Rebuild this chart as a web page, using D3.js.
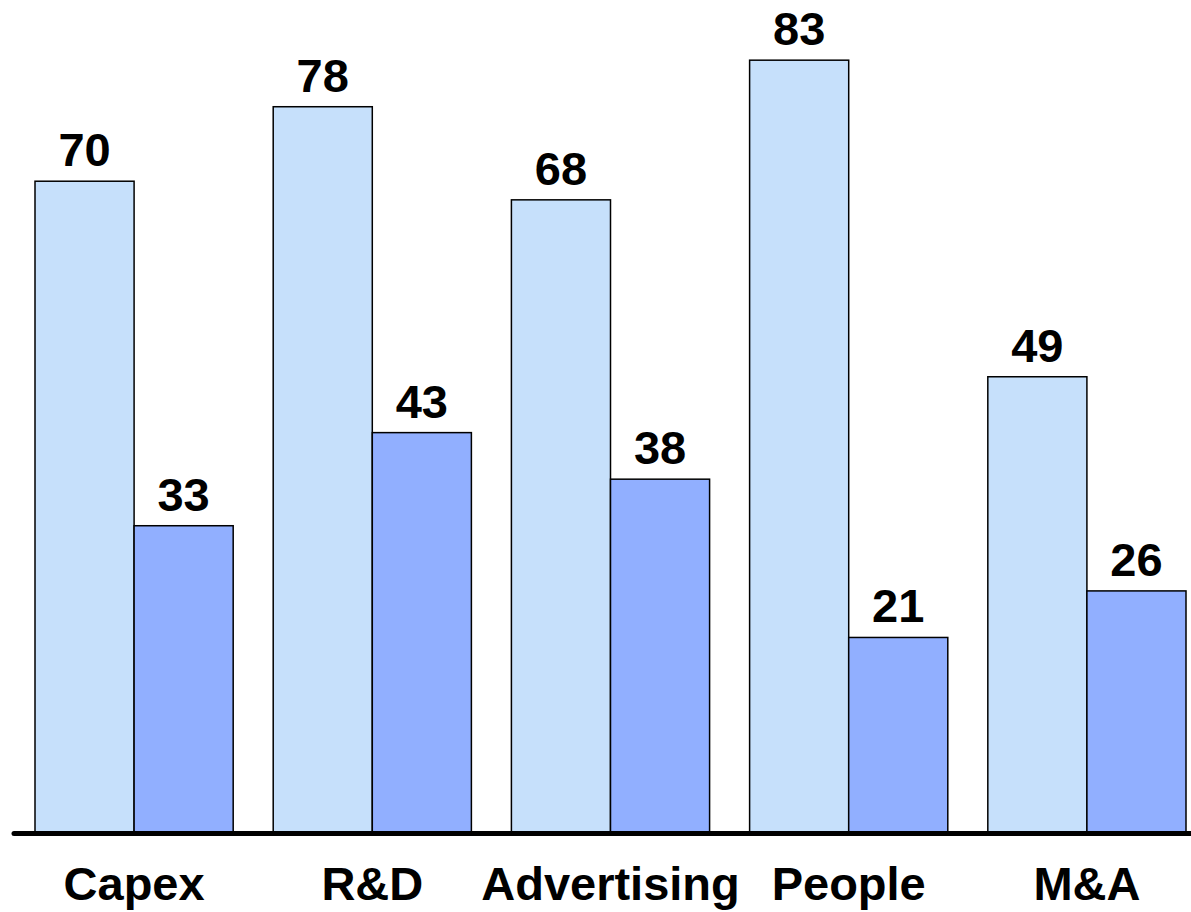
<!DOCTYPE html>
<html><head><meta charset="utf-8">
<script src="https://cdn.jsdelivr.net/npm/d3@7"></script>
<style>html,body{margin:0;padding:0;background:#fff;}svg{display:block;}</style>
</head><body>
<svg id="chart" width="1191" height="912"></svg>
<script>
const categories = ["Capex", "R&D", "Advertising", "People", "M&A"];
const seriesA = [70, 78, 68, 83, 49];
const seriesB = [33, 43, 38, 21, 26];
const seriesColors = ["#C6E0FB", "#91AFFF"];

const svg = d3.select("#chart");
const baseY = 833;
const x = d3.scaleBand().domain(categories).range([35, 1186]).paddingInner(0.168).paddingOuter(0);
const sub = d3.scaleBand().domain([0, 1]).range([0, x.bandwidth()]);
const y = d3.scaleLinear().domain([0, 90]).range([baseY, baseY - 838]);

const data = categories.map((c, i) => ({c, vals: [seriesA[i], seriesB[i]]}));
const groups = svg.selectAll("g.grp").data(data).join("g")
  .attr("transform", d => `translate(${x(d.c)},0)`);

groups.selectAll("rect").data(d => d.vals.map((v, k) => ({v, k}))).join("rect")
  .attr("x", d => sub(d.k))
  .attr("y", d => y(d.v))
  .attr("width", sub.bandwidth())
  .attr("height", d => baseY - y(d.v))
  .attr("fill", d => seriesColors[d.k])
  .attr("stroke", "#000")
  .attr("stroke-width", 1.5);

groups.selectAll("text.val").data(d => d.vals.map((v, k) => ({v, k}))).join("text")
  .attr("class", "val")
  .attr("x", d => sub(d.k) + sub.bandwidth() / 2)
  .attr("y", d => y(d.v) - 15)
  .attr("text-anchor", "middle")
  .attr("font-family", "Liberation Sans, Arial, sans-serif")
  .attr("font-weight", "bold")
  .attr("font-size", 47)
  .text(d => d.v);

svg.append("line")
  .attr("x1", 14).attr("x2", 1191)
  .attr("y1", baseY + 0.5).attr("y2", baseY + 0.5)
  .attr("stroke", "#000").attr("stroke-width", 5).attr("stroke-linecap", "round");

const xAxis = d3.axisBottom(x).tickSize(0).tickPadding(0);
const ax = svg.append("g").attr("transform", `translate(0,${baseY})`).call(xAxis);
ax.select(".domain").remove();
ax.selectAll("text")
  .attr("dy", 0).attr("y", 67)
  .attr("fill", "#000")
  .attr("font-family", "Liberation Sans, Arial, sans-serif")
  .attr("font-weight", "bold")
  .attr("font-size", 47);
</script>
</body></html>
